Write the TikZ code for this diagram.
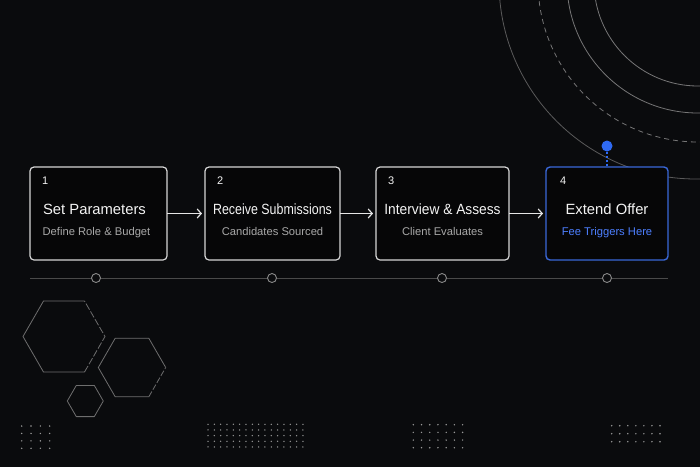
\documentclass[tikz,border=0pt]{standalone}
\usepackage{fontspec}
\setmainfont{Liberation Sans}
\usepackage{graphicx}
\usetikzlibrary{arrows.meta, positioning}
\definecolor{bg}{HTML}{0A0B0D}
\definecolor{boxfill}{HTML}{060607}
\definecolor{boxline}{HTML}{D6D6D6}
\definecolor{titletext}{HTML}{F4F4F4}
\definecolor{subtext}{HTML}{A8A8A8}
\definecolor{arrowcol}{HTML}{E6E6E6}
\definecolor{accentline}{HTML}{3A68D8}
\definecolor{accentdot}{HTML}{2F6AF2}
\definecolor{accenttext}{HTML}{4D7FFF}
\definecolor{timeline}{HTML}{4A4A4A}
\definecolor{tickline}{HTML}{8A8A8A}
\definecolor{ringcol}{HTML}{767676}
\definecolor{ringfaint}{HTML}{5A5A5A}
\definecolor{hexcol}{HTML}{6E6E6E}
\definecolor{dotcol}{HTML}{9A9A9A}

\begin{document}
\begin{tikzpicture}[x=1pt, y=-1pt,
  stepbox/.style={draw=boxline, fill=boxfill, line width=1.2pt, rounded corners=4pt, minimum height=93pt, inner sep=0pt, outer sep=0pt},
  stepnum/.style={anchor=base west, inner sep=0pt, text=titletext, font=\fontsize{11}{13}\selectfont},
  steptitle/.style={anchor=base, inner sep=0pt, text=titletext, font=\fontsize{14.8}{17}\selectfont},
  stepsub/.style={anchor=base, inner sep=0pt, text=subtext, font=\fontsize{11.2}{13}\selectfont},
  flow/.style={-{Straight Barb[length=4pt, width=9pt, line width=1.2pt]}, line width=1.2pt, draw=arrowcol, shorten >=3pt},
  tick/.style={circle, draw=tickline, fill=bg, line width=0.9pt, minimum size=9pt, inner sep=0pt},
  ring/.style={draw=ringcol, line width=0.8pt},
  hexline/.style={draw=hexcol, line width=0.8pt, line join=round},
  griddot/.style={fill=dotcol}]

\path[use as bounding box, fill=bg] (0,0) rectangle (700,467);

\begin{scope}
\clip (0,0) rectangle (700,467);
\draw[ring] (698,-18) circle[radius=104pt];
\draw[ring] (698,-18) circle[radius=131pt];
\draw[ring, dash pattern=on 5pt off 4pt] (698,-18) circle[radius=160pt];
\draw[ring, draw=ringfaint] (696,-18) circle[radius=197pt];
\end{scope}

\draw[hexline, shift={(64,336.5)}] (300:41) -- (240:41) -- (180:41) -- (120:41) -- (60:41);
\draw[hexline, dash pattern=on 7pt off 2pt, shift={(64,336.5)}] (60:41) -- (0:41) -- (300:41);
\draw[hexline, shift={(132,367.5)}] (0:33.7) -- (300:33.7) -- (240:33.7) -- (180:33.7) -- (120:33.7) -- (60:33.7);
\draw[hexline, dash pattern=on 6pt off 2pt, shift={(132,367.5)}] (60:33.7) -- (0:33.7);
\draw[hexline, shift={(85.3,401)}] (0:18) -- (60:18) -- (120:18) -- (180:18) -- (240:18) -- (300:18) -- cycle;

\node (1) [stepbox, minimum width=137pt] at (98.5,213.5) {};
\node (2) [stepbox, minimum width=135pt, right=38pt of 1] {};
\node (3) [stepbox, minimum width=133pt, right=36pt of 2] {};
\node (4) [stepbox, minimum width=122pt, right=37pt of 3, draw=accentline, line width=1.4pt] {};

\node (n1) [stepnum] at ([xshift=12pt, yshift=-17.5pt]1.north west) {1};
\node (h1) [steptitle] at ([xshift=-4pt, yshift=-47.6pt]1.north) {Set Parameters};
\node (d1) [stepsub] at ([xshift=-2pt, yshift=-68.5pt]1.north) {Define Role \& Budget};
\node (n2) [stepnum] at ([xshift=12pt, yshift=-17.5pt]2.north west) {2};
\node (h2) [steptitle] at ([yshift=-47.6pt]2.north) {\scalebox{0.84}[1]{Receive Submissions}};
\node (d2) [stepsub] at ([yshift=-68.5pt]2.north) {Candidates Sourced};
\node (n3) [stepnum] at ([xshift=12pt, yshift=-17.5pt]3.north west) {3};
\node (h3) [steptitle] at ([yshift=-47.6pt]3.north) {\scalebox{0.93}[1]{Interview \& Assess}};
\node (d3) [stepsub] at ([yshift=-68.5pt]3.north) {Client Evaluates};
\node (n4) [stepnum] at ([xshift=14pt, yshift=-17.5pt]4.north west) {4};
\node (h4) [steptitle] at ([yshift=-47.6pt]4.north) {Extend Offer};
\node (d4) [stepsub, text=accenttext] at ([yshift=-68.5pt]4.north) {Fee Triggers Here};

\draw[flow] (1) -- (2);
\draw[flow] (2) -- (3);
\draw[flow] (3) -- (4);

\coordinate (ta) at (30,278);
\coordinate (tb) at (668,278);
\draw[draw=timeline, line width=0.9pt] (ta) -- (tb);
\node (t1) [tick] at (96,278) {};
\node (t2) [tick] at (272,278) {};
\node (t3) [tick] at (442,278) {};
\node (t4) [tick] at (607,278) {};

\node (pin) [circle, fill=accentdot, minimum size=11pt, inner sep=0pt] at (607,146) {};
\draw[accentdot, line width=1.4pt, dash pattern=on 2pt off 2pt] (pin) -- (4);

\foreach \i in {0,...,3} \foreach \j in {0,...,3} \fill[griddot] (21.7+\i*9.33, 426+\j*7.43) circle[radius=0.8pt];
\foreach \i in {0,...,15} \foreach \j in {0,...,4} \fill[griddot] (208+\i*6.33, 424.3+\j*5.67) circle[radius=0.75pt];
\foreach \i in {0,...,6} \foreach \j in {0,...,3} \fill[griddot] (413.3+\i*8.22, 424.7+\j*7.67) circle[radius=0.8pt];
\foreach \i in {0,...,6} \foreach \j in {0,...,2} \fill[griddot] (611.7+\i*8.05, 425.7+\j*8) circle[radius=0.8pt];

\end{tikzpicture}
\end{document}
